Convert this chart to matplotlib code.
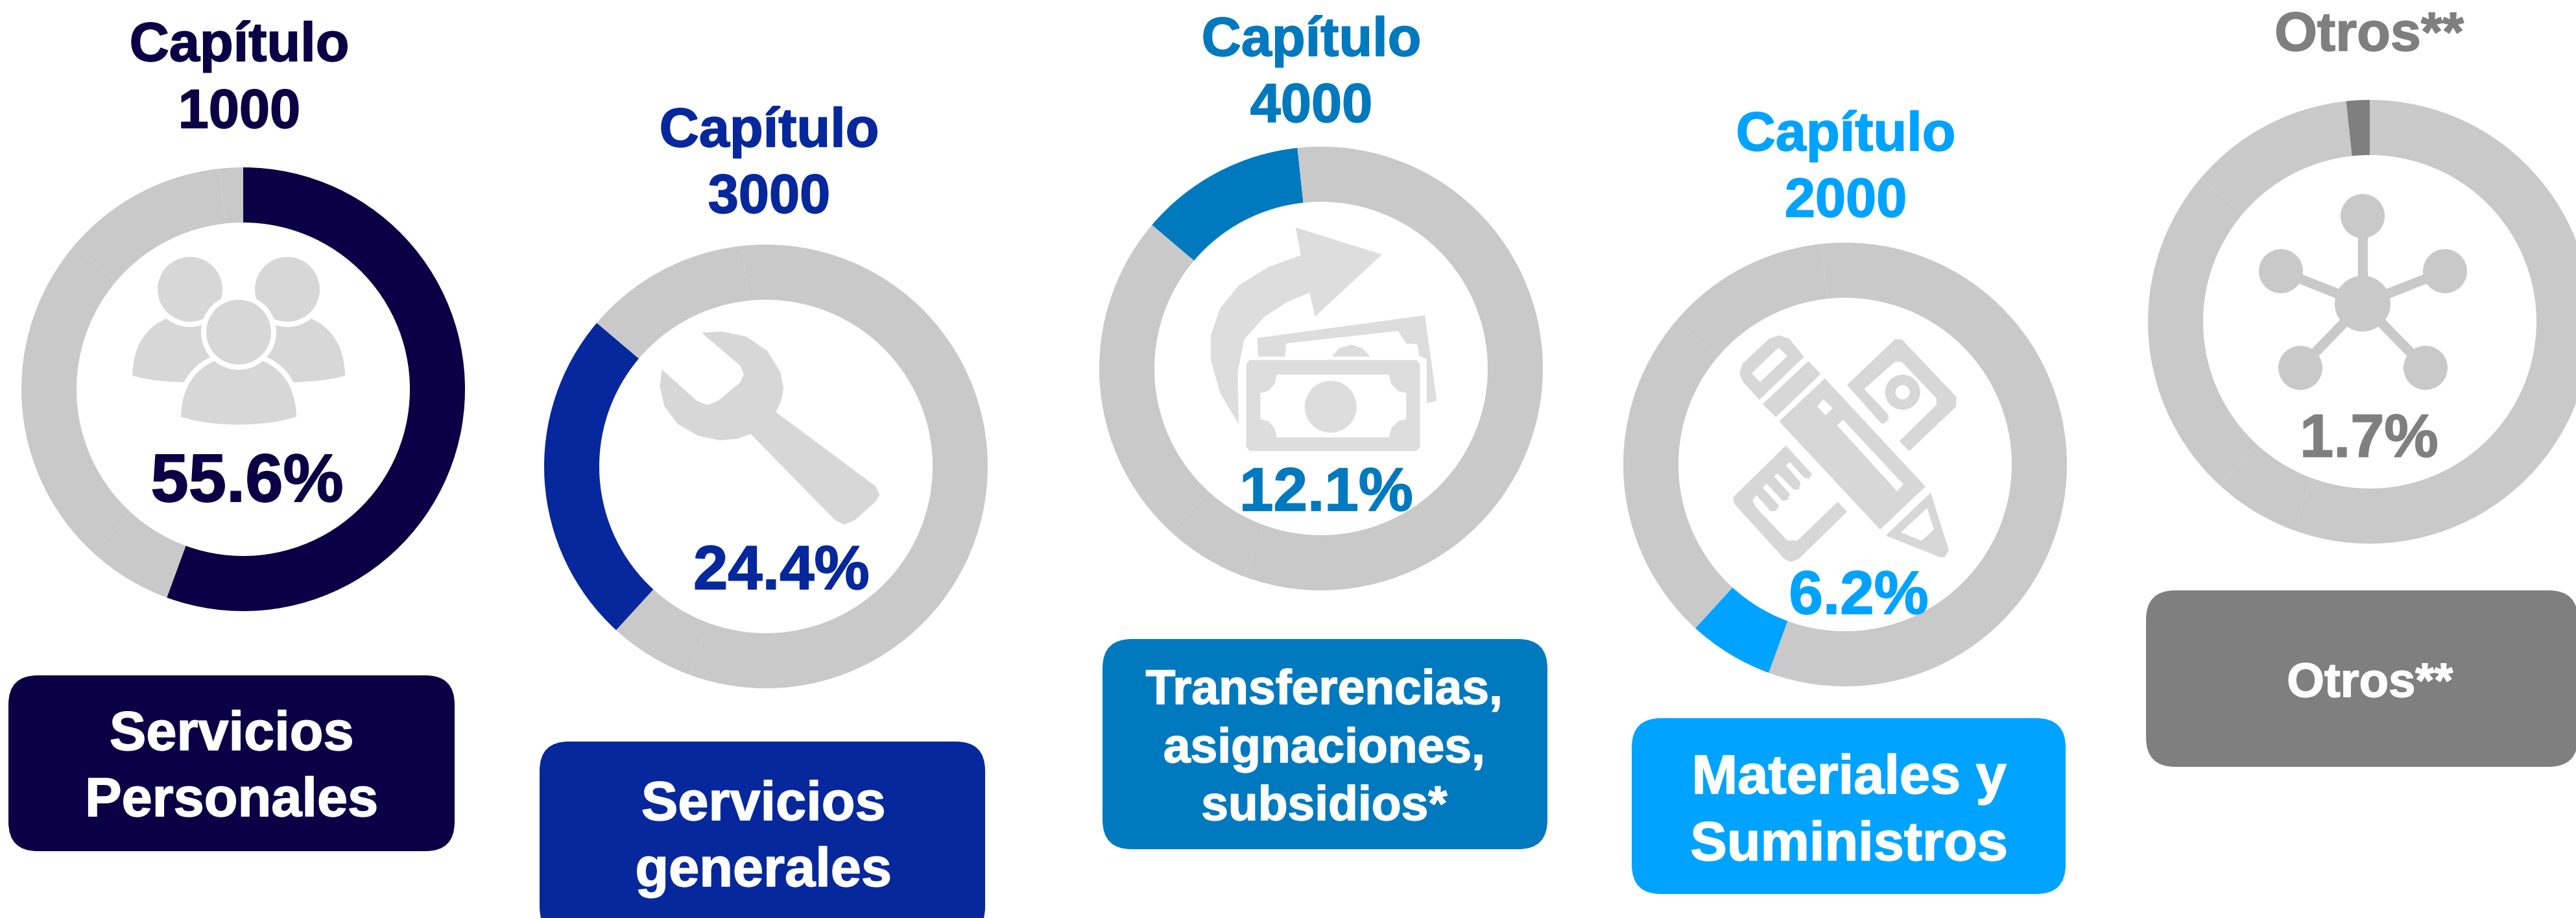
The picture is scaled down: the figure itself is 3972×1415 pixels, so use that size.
import matplotlib
matplotlib.use("Agg")
import matplotlib.pyplot as plt
import matplotlib.patheffects as pe
from matplotlib.patches import Circle, FancyBboxPatch, PathPatch, Polygon
from matplotlib.path import Path

plt.rcParams['font.family'] = ['Liberation Sans', 'DejaVu Sans']

W, H = 3973, 1415

# shares of the ring, clockwise from the top
ring_labels = ["Capítulo 1000", "Capítulo 2000", "Capítulo 3000", "Capítulo 4000", "Otros**"]
ring_values = [55.6, 6.2, 24.4, 12.1, 1.7]

percent_labels = ["55.6%", "6.2%", "24.4%", "12.1%", "1.7%"]
title_lines = [["Capítulo", "1000"], ["Capítulo", "2000"], ["Capítulo", "3000"], ["Capítulo", "4000"], ["Otros**"]]
box_lines = [["Servicios", "Personales"], ["Materiales y", "Suministros"], ["Servicios", "generales"],
             ["Transferencias,", "asignaciones,", "subsidios*"], ["Otros**"]]

colors = ['#0b0045', '#00a3ff', '#06289c', '#0079bf', '#7f7f7f']
GRAY = '#c9c9c9'
ICON = '#d7d7d7'

# layout, in pixels of the picture
centers = [(375, 600), (2845, 716), (1181, 719), (2037, 568), (3654, 496)]
R_OUT, R_IN = 342, 257
title_x = [369, 2846, 1186, 2022, 3653]
title_base = [[94, 197], [232, 334], [226, 328], [86, 188], [78]]
pct_pos = [(381, 773, 75.5), (2866, 946, 68), (1205, 908, 69), (2045, 787, 68), (3653, 704, 67.5)]
boxes = [(13, 1041, 688, 271), (2516, 1107, 669, 271), (832, 1143, 687, 300), (1700, 985, 686, 324), (3309, 910, 666, 272)]
box_x = [357, 2851, 1177, 2042, 3654]
box_base = [[1156, 1258], [1223, 1326], [1264, 1366], [1085, 1175, 1264], [1074]]
box_size = [61, 61, 61, 54, 53.5]

fig = plt.figure(figsize=(W / 100, H / 100), dpi=100)
ax = fig.add_axes([0, 0, 1, 1])

for i, (cx, cy) in enumerate(centers):
    cols = [colors[i] if j == i else GRAY for j in range(len(ring_values))]
    # y axis is flipped below, so this runs clockwise from the top
    ax.pie(ring_values, colors=cols, startangle=-90, counterclock=True, center=(cx, cy), radius=R_OUT,
           wedgeprops=dict(width=R_OUT - R_IN, linewidth=0))

ax.set_xlim(0, W)
ax.set_ylim(H, 0)
ax.axis('off')


def conv(pts, x0, sx, y0, sy):
    return [(x0 + x / sx, y0 + y / sy) for x, y in pts]


def poly(pts, color, **kw):
    ax.add_patch(Polygon(pts, closed=True, facecolor=color, edgecolor='none', **kw))


def label(x, y, s, color, size):
    ax.text(x, y, s, color=color, fontsize=size, fontweight='bold', ha='center', va='baseline',
            path_effects=[pe.withStroke(linewidth=1.2, foreground=color)])


# people icon
def body(cx, w, top, bottom, sag):
    verts = [(cx - w / 2, bottom),
             (cx - w / 2, top + 30), (cx - w / 4, top), (cx, top),
             (cx + w / 4, top), (cx + w / 2, top + 30), (cx + w / 2, bottom),
             (cx + w / 4, bottom + sag), (cx - w / 4, bottom + sag), (cx - w / 2, bottom),
             (cx - w / 2, bottom)]
    codes = [Path.MOVETO] + [Path.CURVE4] * 9 + [Path.CLOSEPOLY]
    ax.add_patch(PathPatch(Path(verts, codes), facecolor=ICON, edgecolor='white', linewidth=5.8))


body(293, 186, 480, 582, 15)
body(443, 186, 480, 582, 15)
for hx, hy in [(293, 446), (443, 446)]:
    ax.add_patch(Circle((hx, hy), 54, facecolor=ICON, edgecolor='white', linewidth=5.8))
body(368, 186, 545, 645, 18)
ax.add_patch(Circle((368, 512), 54, facecolor=ICON, edgecolor='white', linewidth=5.8))

# wrench icon
wrench = [(570, 625), (640, 622), (720, 635), (790, 670), (835, 725), (845, 765), (838, 795), (820, 825),
          (1155, 1012), (1168, 1033), (1155, 1050), (1085, 1097), (1050, 1108), (1020, 1098), (735, 880),
          (690, 892), (630, 896), (560, 885), (490, 855), (445, 810), (430, 760), (437, 718),
          (555, 797), (590, 807), (625, 797), (700, 750), (712, 730), (700, 708)]
poly(conv(wrench, 820, 2.178, 130, 1.633), ICON)

# money icon
MONEY = '#dddddd'
z2 = lambda p: conv(p, 1600, 1.742, 0, 1.568)
arrow = [(925, 615), (693, 550), (707, 617), (620, 645), (540, 690), (490, 745), (465, 810), (465, 870),
         (490, 950), (540, 1025), (537, 900), (555, 820), (610, 765), (670, 730), (730, 707), (745, 765)]
poly(z2(arrow), MONEY)
rear = [(590, 817), (1040, 762), (1072, 968), (1045, 975), (1045, 868), (1025, 860), (1020, 832), (990, 830),
        (968, 800), (667, 830), (665, 862), (592, 862)]
poly(z2(rear), MONEY)
poly(z2([(790, 862), (810, 842), (842, 833), (873, 842), (893, 862)]), MONEY)
bill = [(560, 880), (570, 870), (1017, 870), (1027, 880), (1027, 1080), (1017, 1090), (570, 1090), (560, 1080)]
poly(z2(bill), MONEY)
inner = [(643, 905), (943, 905), (950, 928), (968, 945), (990, 950), (990, 1013), (968, 1018), (950, 1035),
         (943, 1057), (643, 1057), (636, 1035), (620, 1018), (598, 1013), (598, 950), (620, 945), (636, 928)]
poly(z2(inner), 'white')
ax.add_patch(Circle((1600 + 787 / 1.742, 983 / 1.568), 40, facecolor=MONEY, edgecolor='none'))

# pencil and rulers icon
z3 = lambda p: conv(p, 2450, 1.96, 300, 1.96)
poly(z3([(515, 620), (650, 490), (605, 435), (575, 425), (545, 435), (465, 510), (455, 540), (465, 565)]), ICON)
poly(z3([(492, 540), (573, 462), (600, 488), (517, 566)]), 'white')
poly(z3([(525, 633), (663, 503), (700, 542), (565, 672)]), ICON)
poly(z3([(575, 685), (713, 555), (1017, 882), (880, 1012)]), ICON)
poly(z3([(690, 640), (708, 618), (737, 645), (715, 667)]), 'white')
poly(z3([(750, 697), (768, 680), (950, 875), (932, 897)]), 'white')
poly(z3([(897, 1030), (1033, 900), (1088, 1075), (1075, 1095), (1060, 1095)]), ICON)
poly(z3([(943, 1020), (1022, 947), (1043, 1012), (1005, 1046)]), 'white')
poly(z3([(780, 575), (925, 437), (945, 437), (1110, 610), (1110, 640), (968, 775), (938, 745), (1050, 635),
         (1050, 615), (945, 505), (925, 505), (832, 587), (905, 665), (905, 680), (890, 692), (880, 688)]), ICON)
ax.add_patch(Circle((2450 + 948 / 1.96, 300 + 597 / 1.96), 27, facecolor=ICON, edgecolor='none'))
ax.add_patch(Circle((2450 + 948 / 1.96, 300 + 597 / 1.96), 11, facecolor='white', edgecolor='none'))
poly(z3([(595, 758), (675, 845), (665, 858), (650, 855), (607, 808), (595, 818), (640, 870), (635, 890), (620, 892),
         (570, 842), (560, 852), (608, 905), (600, 922), (585, 925), (537, 873), (525, 885), (575, 940), (565, 955),
         (550, 957), (505, 907), (495, 925), (505, 945), (600, 1045), (630, 1045), (752, 928), (780, 958),
         (635, 1100), (610, 1110), (590, 1100), (440, 935), (435, 915), (445, 905)]), ICON)

# network icon
hub = (3643, 468)
nodes = [(3643, 333), (3517, 418), (3770, 418), (3547, 567), (3740, 567)]
for nx, ny in nodes:
    ax.plot([hub[0], nx], [hub[1], ny], color=GRAY, lw=11, solid_capstyle='butt')
    ax.add_patch(Circle((nx, ny), 34, facecolor=GRAY, edgecolor='none'))
ax.add_patch(Circle(hub, 43, facecolor=GRAY, edgecolor='none'))

# texts and boxes
for i in range(len(ring_values)):
    for line, base in zip(title_lines[i], title_base[i]):
        label(title_x[i], base, line, colors[i], 61)
    px, py, ps = pct_pos[i]
    label(px, py, percent_labels[i], colors[i], ps)
    bx, by, bw, bh = boxes[i]
    ax.add_patch(FancyBboxPatch((bx, by), bw, bh, boxstyle="round,pad=0,rounding_size=45",
                                facecolor=colors[i], edgecolor='none'))
    for line, base in zip(box_lines[i], box_base[i]):
        label(box_x[i], base, line, 'white', box_size[i])

fig.savefig('out.png', dpi=100, facecolor='white')
